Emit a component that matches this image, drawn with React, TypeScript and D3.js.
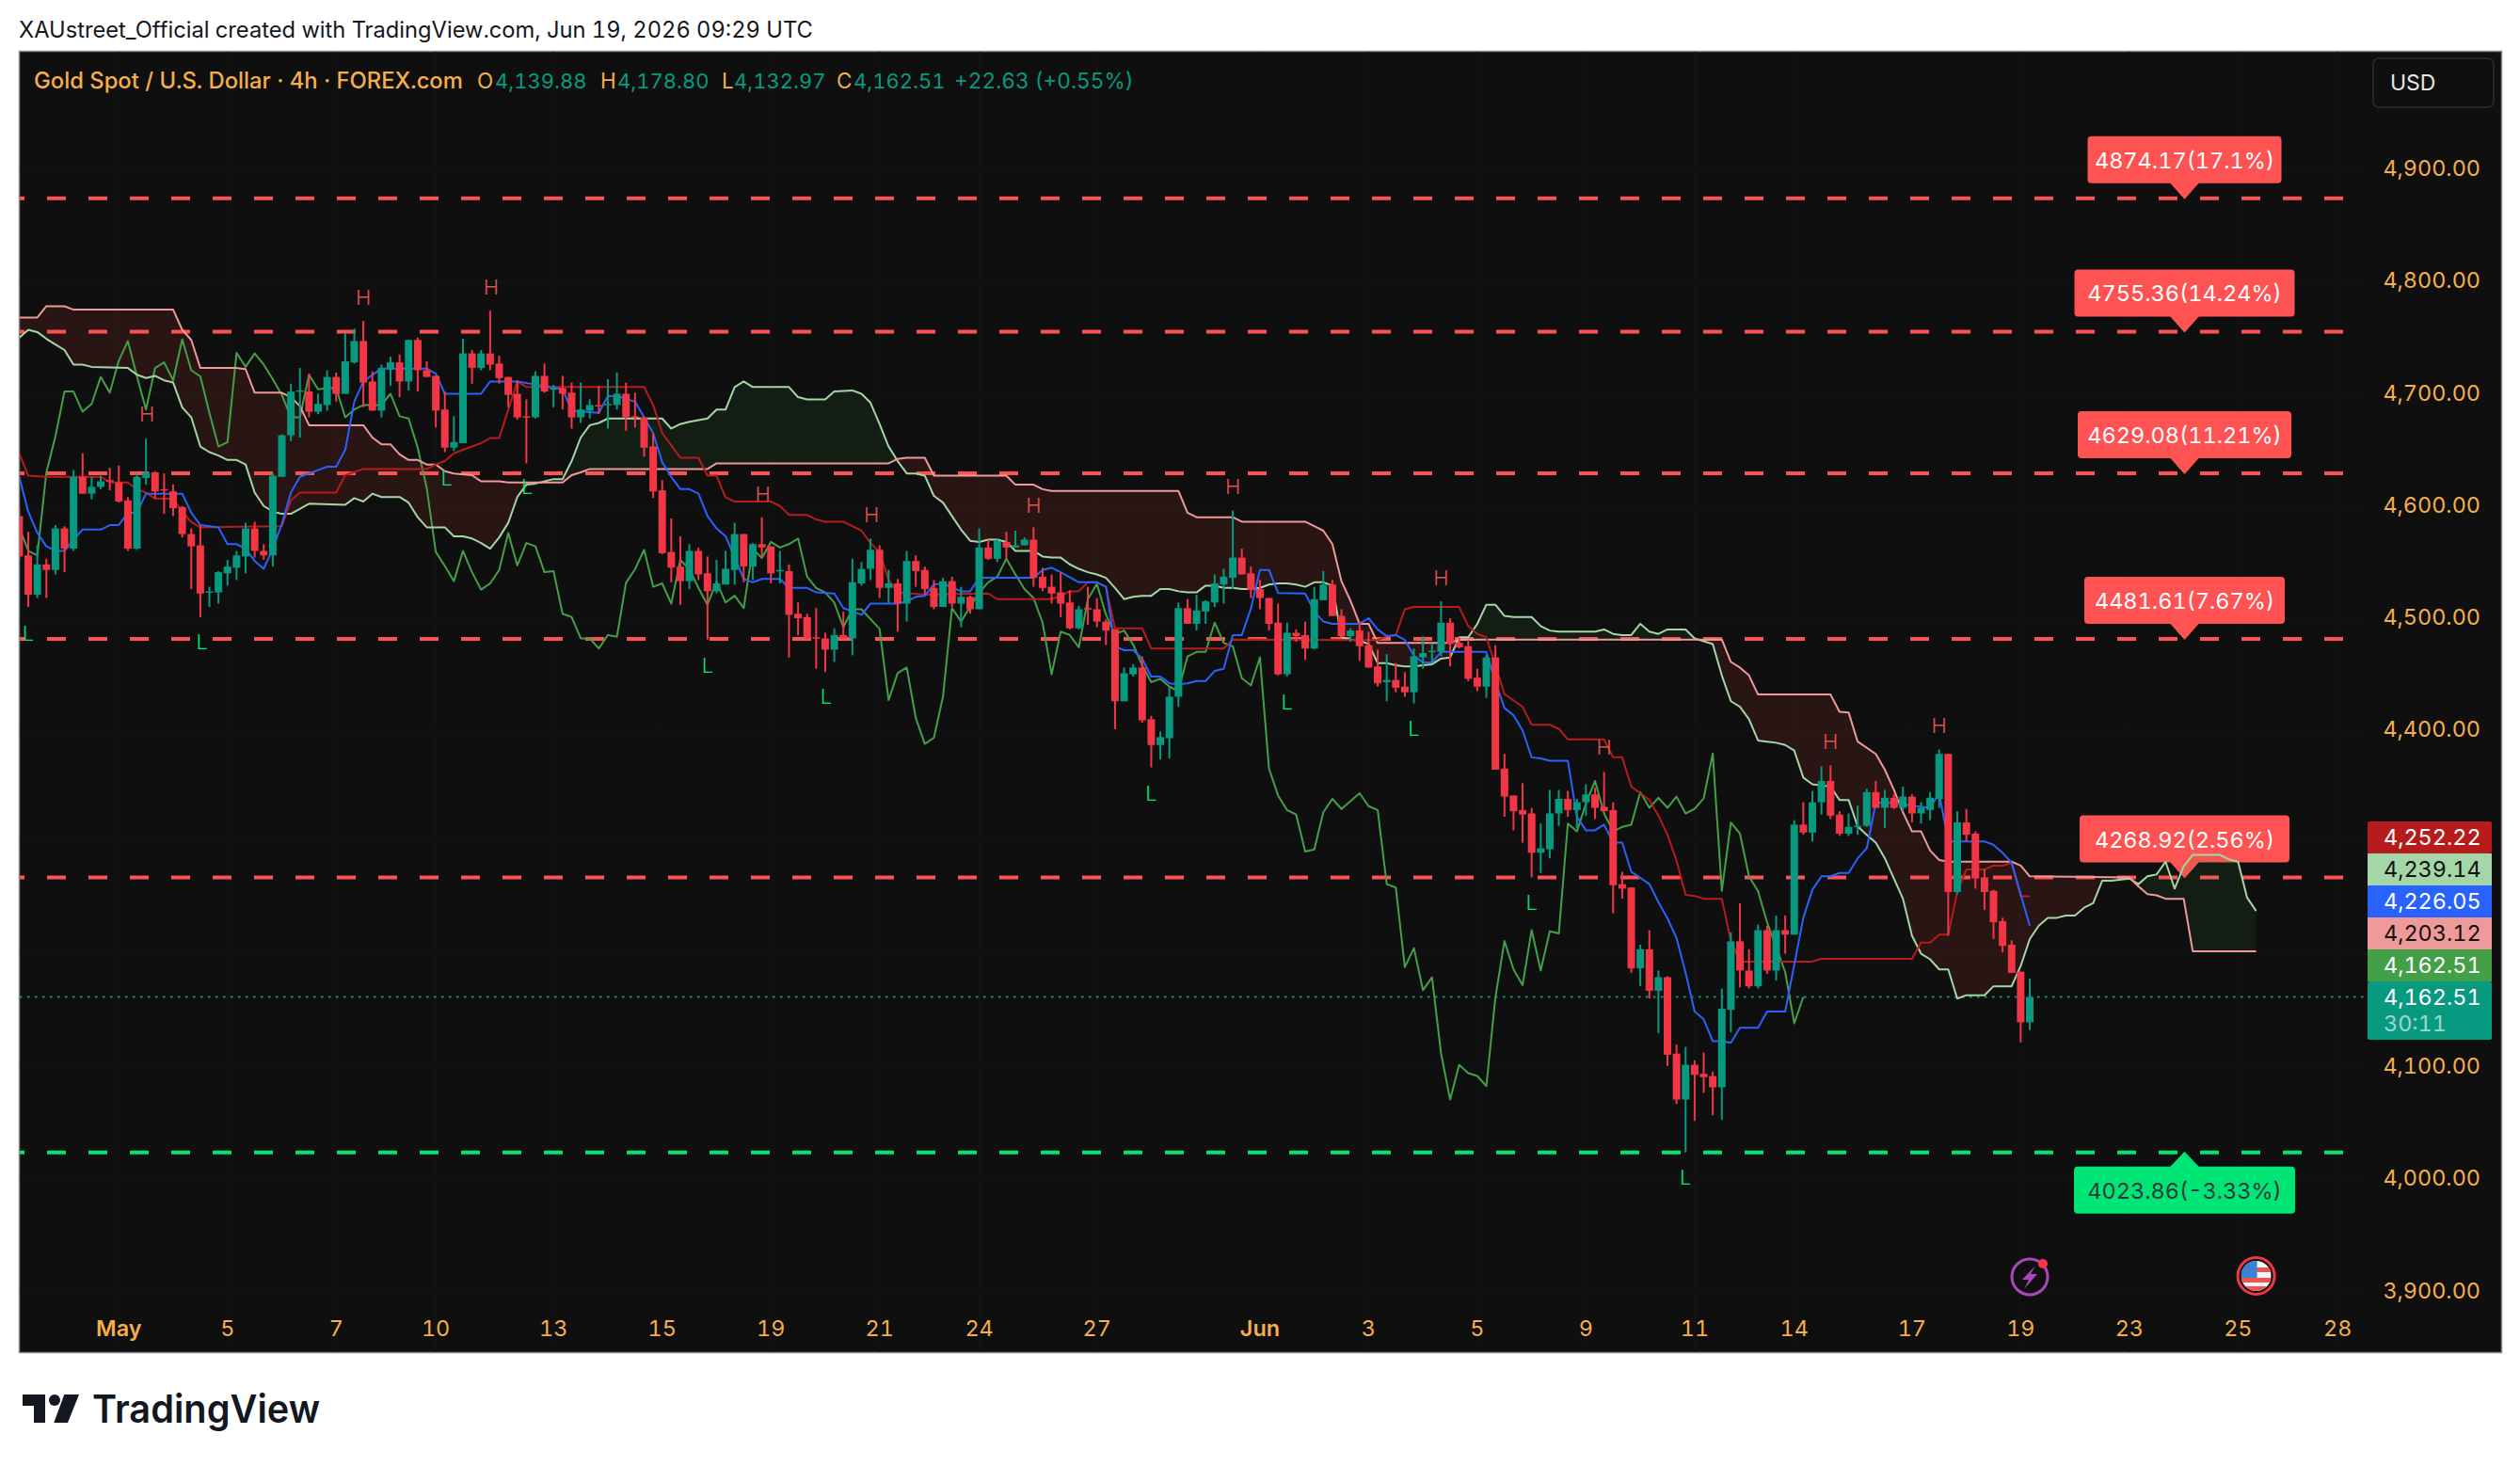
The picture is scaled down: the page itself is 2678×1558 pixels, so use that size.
import React from "react";
import * as d3 from "d3";

type P = [number, number];
type C = [number, number, number, number];

// O H L C, one row per 4h bar
const candlesA: C[] = [
[4591,4600,4552,4555],[4556,4577,4510,4521],[4521,4565,4518,4548],[4548,4553,4518,4543],[4543,4583,4539,4580],[4580,4582,4541,4562],[4562,4632,4560,4626],[4626,4647,4611,4611],[4611,4626,4606,4617],[4617,4627,4615,4622],
[4623,4634,4614,4622],[4621,4636,4603,4604],[4605,4608,4560,4562],[4562,4629,4561,4626],[4625,4660,4619,4630],[4630,4631,4607,4613],[4615,4629,4593,4614],[4613,4619,4591,4598],[4599,4600,4572,4575],[4575,4580,4526,4564],
[4565,4583,4501,4522],[4523,4528,4510,4524],[4523,4542,4513,4541],[4540,4552,4529,4546],[4545,4560,4534,4556],[4555,4585,4540,4580],[4580,4586,4554,4560],[4560,4566,4552,4556],[4556,4629,4546,4627],[4626,4664,4626,4663],
[4663,4709,4658,4702],[4702,4723,4661,4703],[4702,4718,4679,4684],[4684,4700,4682,4691],[4690,4721,4685,4715],[4715,4719,4693,4700],[4700,4754,4700,4729],[4728,4758,4727,4747],[4747,4765,4688,4710],[4711,4720,4685,4685],
[4685,4726,4679,4723],[4722,4733,4707,4728],[4728,4735,4697,4711],[4711,4748,4703,4748],[4748,4750,4702,4721],[4721,4729,4715,4715],[4716,4716,4670,4685],[4686,4702,4648,4652],[4652,4680,4649,4657],[4656,4749,4656,4736],
[4736,4739,4709,4723],[4723,4739,4721,4736],[4736,4774,4721,4726],[4727,4734,4709,4714],[4715,4715,4688,4699],[4700,4712,4677,4679],[4680,4695,4638,4679],[4679,4720,4678,4716],[4716,4727,4701,4702],[4704,4708,4688,4705],
[4705,4716,4686,4700],[4701,4710,4669,4679],[4679,4710,4674,4686],[4685,4695,4678,4690],[4690,4707,4682,4689],[4690,4713,4669,4691],[4690,4719,4686,4700],[4700,4710,4667,4679],[4680,4701,4670,4679],[4679,4679,4644,4652],
[4653,4665,4607,4613],[4614,4623,4557,4558],[4559,4589,4532,4545],[4546,4573,4512,4533],[4533,4566,4526,4560],[4560,4563,4534,4539],[4540,4555,4481,4524],[4524,4552,4522,4531],[4530,4560,4530,4544],[4543,4585,4530,4575],
];
const candlesB: C[] = [
[4575,4575,4532,4546],[4546,4567,4534,4566],[4566,4590,4554,4563],[4564,4564,4531,4540],[4542,4560,4531,4543],[4542,4548,4465,4503],[4504,4514,4485,4500],[4501,4504,4481,4482],[4483,4509,4455,4482],[4482,4487,4452,4472],
[4472,4491,4461,4485],[4485,4506,4482,4482],[4482,4553,4467,4532],[4531,4550,4529,4544],[4544,4571,4534,4561],[4561,4565,4518,4527],[4527,4543,4513,4531],[4531,4535,4488,4513],[4513,4560,4497,4551],[4551,4556,4528,4542],
[4543,4546,4521,4526],[4527,4534,4508,4510],[4510,4536,4510,4533],[4533,4537,4510,4513],[4513,4528,4492,4519],[4519,4520,4504,4508],[4508,4580,4508,4563],[4563,4570,4552,4553],[4553,4570,4550,4569],[4568,4577,4553,4563],
[4563,4578,4563,4565],[4565,4572,4565,4570],[4570,4581,4528,4536],[4537,4545,4524,4527],[4528,4539,4513,4522],[4523,4541,4501,4513],[4514,4525,4490,4491],[4491,4511,4490,4508],[4509,4528,4494,4508],[4508,4518,4492,4497],
[4497,4499,4476,4489],[4490,4490,4401,4426],[4426,4456,4426,4451],[4450,4459,4448,4456],[4456,4466,4407,4409],[4410,4413,4367,4387],[4387,4399,4374,4394],[4393,4439,4375,4430],[4430,4514,4421,4509],[4509,4517,4495,4495],
[4495,4521,4489,4507],[4506,4516,4495,4515],[4514,4539,4510,4531],[4530,4544,4513,4537],[4536,4596,4526,4554],
];
const candlesC: C[] = [
[4554,4562,4539,4539],[4540,4546,4518,4525],[4526,4534,4508,4518],[4518,4518,4489,4495],[4496,4513,4449,4450],[4450,4496,4448,4487],[4487,4490,4479,4484],[4485,4497,4463,4473],[4473,4528,4472,4517],[4516,4542,4516,4530],
[4530,4534,4502,4502],[4502,4508,4483,4484],[4484,4491,4479,4489],[4489,4497,4462,4475],[4476,4488,4456,4456],[4457,4472,4439,4442],[4443,4468,4426,4445],[4445,4460,4434,4438],[4439,4452,4430,4434],[4434,4473,4424,4466],
[4465,4484,4455,4469],[4470,4477,4460,4471],[4470,4515,4466,4496],[4496,4500,4457,4477],[4478,4483,4473,4474],[4475,4481,4444,4446],[4447,4455,4435,4439],[4439,4467,4429,4465],[4465,4476,4365,4365],
[4366,4379,4323,4341],[4342,4342,4311,4328],[4329,4353,4300,4325],[4326,4331,4269,4291],[4291,4317,4273,4295],[4294,4347,4286,4326],[4326,4347,4315,4339],[4339,4346,4323,4329],[4329,4339,4313,4336],[4336,4352,4324,4343],
[4343,4349,4321,4331],[4332,4363,4328,4328],[4329,4336,4237,4262],[4263,4274,4250,4259],[4260,4260,4184,4188],[4188,4209,4172,4205],[4205,4222,4161,4168],[4168,4186,4130,4180],[4180,4181,4101,4111],[4112,4120,4067,4071],
[4071,4118,4024,4102],[4102,4106,4052,4093],[4094,4113,4077,4091],[4092,4096,4057,4082],[4082,4170,4053,4152],[4151,4220,4131,4212],[4212,4246,4171,4186],[4186,4205,4170,4172],[4172,4227,4170,4222],[4222,4226,4183,4186],
[4186,4235,4177,4222],[4222,4235,4201,4218],[4218,4320,4218,4316],[4316,4336,4307,4309],[4309,4346,4301,4336],[4336,4368,4325,4355],
[4355,4369,4321,4324],[4325,4328,4306,4308],[4308,4326,4306,4314],[4314,4333,4307,4315],[4315,4348,4314,4345],[4345,4355,4331,4331],[4331,4347,4313,4340],[4340,4343,4330,4331],[4331,4350,4328,4341],[4341,4343,4318,4326],
[4326,4336,4317,4331],[4329,4345,4320,4340],[4339,4383,4331,4379],[4379,4379,4217,4256],[4256,4328,4254,4318],[4318,4330,4301,4307],[4308,4310,4259,4268],[4269,4276,4240,4256],[4257,4258,4214,4229],[4230,4233,4202,4208],
[4209,4213,4184,4184],[4185,4185,4122,4139.88],[4139.88,4178.8,4132.97,4162.51],
];
const candles: C[] = [...candlesA, ...candlesB, ...candlesC];

// [bar index, price] at the vertices of each line
const spanA: P[] = [[0,4750],[1,4757],[2,4755],[3,4749],[4,4744],[5,4739],[6,4726],[7,4726],[8,4724],[12,4723],[13,4717],[14,4714],[15,4716],[16,4712],[17,4710],[18,4688],[19,4679],[20,4653],[21,4648],[22,4645],[23,4641],[24,4641],[25,4637],[26,4612],[27,4600],[28,4595],[29,4593],[30,4593],[32,4602],[36,4601],[37,4607],[38,4604],[39,4611],[40,4608],[42,4608],[43,4603],[44,4590],[45,4581],[47,4581],[48,4573],[49,4573],[50,4571],[51,4567],[52,4562],[53,4572],[54,4585],[55,4608],[56,4619],[57,4620],[59,4624],[60,4624],[61,4640],[62,4661],[63,4672],[64,4674],[65,4678],[71,4678],[72,4669],[73,4673],[74,4675],[76,4678],[77,4686],[78,4686],[79,4706],[80,4711],[81,4706],[85,4706],[86,4697],[87,4695],[89,4695],[90,4702],[92,4703],[93,4700],[94,4692],[95,4673],[96,4653],[97,4640],[98,4629],[99,4629],[100,4627],[101,4609],[102,4603],[104,4579],[105,4569],[106,4568],[107,4570],[108,4570],[109,4568],[110,4560],[112,4560],[113,4555],[114,4554],[115,4554],[116,4548],[117,4544],[118,4541],[119,4539],[120,4536],[121,4527],[122,4517],[123,4519],[124,4520],[125,4520],[126,4526],[127,4526],[128,4524],[129,4523],[130,4523],[131,4529],[132,4529],[133,4527],[134,4527],[135,4526],[136,4526],[137,4527],[138,4530],[139,4531],[140,4531],[141,4530],[142,4528],[143,4532],[144,4532],[145,4529],[146,4483],[147,4481],[148,4480],[149,4477],[150,4460],[151,4460],[152,4458],[153,4457],[154,4457],[155,4458],[156,4459],[157,4464],[158,4465],[159,4483],[160,4483],[161,4495],[162,4512],[163,4512],[164,4502],[165,4501],[167,4501],[168,4493],[169,4489],[170,4488],[174,4488],[175,4490],[176,4486],[177,4485],[178,4485],[179,4495],[180,4488],[181,4486],[182,4490],[184,4490],[185,4482],[187,4477],[188,4449],[189,4426],[190,4421],[191,4410],[192,4391],[193,4390],[194,4389],[195,4387],[196,4382],[197,4358],[198,4352],[199,4351],[200,4350],[201,4338],[202,4338],[203,4314.5],[204,4307],[205,4300],[206,4286],[207,4268],[208,4250],[209,4217],[210,4201],[211,4196],[212,4187],[213,4187],[214,4161],[215,4164],[217,4164],[218,4172],[220,4172],[221,4190],[222,4214],[223,4226],[224,4233],[225,4233],[226,4235],[227,4235],[228,4242],[229,4246],[230,4266],[231,4266],[233,4268],[234,4263],[235,4270],[236,4271.6],[237,4283],[238,4259],[239,4279],[240,4289],[243,4289],[244,4285],[245,4283],[246,4251],[247,4239.14]];
const spanB: P[] = [[0,4768],[2,4768],[3,4778],[5,4778],[6,4775],[17,4775],[18,4757],[19,4748],[20,4723],[24,4723],[25,4722],[26,4701],[29,4701],[30,4697],[31,4689],[32,4672],[38,4672],[39,4661],[40,4655],[41,4655],[42,4646],[43,4641],[44,4641],[45,4637],[46,4637],[47,4631],[48,4629],[50,4627.5],[51,4622],[53,4622],[54,4621],[60,4621],[61,4627.5],[62,4630],[63,4633],[76,4633],[77,4638],[96,4638],[97,4642],[98,4643],[100,4643],[101,4627],[109,4627],[110,4619],[112,4619],[113,4615],[114,4613.5],[128,4613.5],[129,4594],[130,4590],[134,4590],[135,4586],[142,4586],[143,4582],[144,4578],[145,4566],[146,4533],[147,4515.5],[148,4495],[149,4495],[150,4478],[158,4478],[159,4481],[188,4481],[189,4461],[190,4456],[191,4449],[192,4432],[200,4432],[201,4416.5],[202,4416],[203,4390],[205,4379],[206,4365],[207,4347],[208,4327],[209,4310],[210,4310],[211,4293],[212,4284.5],[213,4283],[220,4283],[221,4279.5],[222,4270],[233,4269],[234,4261],[235,4254],[236,4253],[237,4250],[239,4250],[240,4203.12],[247,4203.12]];
const tenkan: P[] = [[0,4626],[1,4595],[2,4576],[3,4564],[4,4560],[5,4560],[6,4570],[7,4579],[9,4579],[10,4583],[11,4583],[12,4594],[13,4594],[14,4611],[18,4611],[19,4594],[20,4583],[22,4581],[23,4566],[24,4566],[25,4562],[26,4551],[27,4544],[28,4562],[29,4584],[30,4612],[31,4626],[32,4629],[34,4635],[35,4635],[36,4650],[37,4693],[38,4711],[40,4722.5],[45,4722.5],[46,4718],[47,4700],[51,4700],[52,4711],[55,4711],[60,4704],[61,4685],[64,4683],[65,4698],[66,4698],[68,4693],[69,4679],[70,4665],[71,4639],[72,4626],[73,4615],[74,4615],[75,4611],[76,4591],[77,4580],[78,4573],[80,4535],[81,4532],[82,4535],[84,4535],[85,4527],[87,4527],[88,4523],[90,4522],[91,4509],[93,4503],[94,4513],[97,4513],[98,4515],[99,4519],[100,4520],[101,4530],[102,4531],[104,4524],[105,4524],[106,4536],[112,4536],[113,4543],[114,4545],[115,4541],[117,4532],[119,4532],[120,4528],[121,4475],[122,4471.5],[123,4471.5],[124,4464],[125,4448],[126,4448],[127,4442],[128,4441],[129,4442],[130,4444],[131,4444],[132,4453],[133,4455],[134,4485],[135,4485],[136,4508.5],[137,4543],[138,4543],[139,4522.5],[142,4522],[143,4506],[144,4497],[145,4495],[148,4495],[149,4500],[150,4490],[151,4484],[152,4485],[153,4480.6],[154,4466.6],[155,4460.5],[156,4460.5],[157,4470],[162,4470],[163,4443],[164,4420],[165,4413.5],[166,4400],[167,4376],[168,4375],[169,4373],[171,4373],[172,4323],[173,4311],[174,4311],[175,4316],[176,4300],[177,4300],[178,4274],[179,4268.6],[180,4263],[181,4247],[182,4232.5],[183,4215],[184,4184],[185,4149.5],[186,4142.5],[187,4123],[188,4123],[189,4121.6],[190,4135],[192,4135],[193,4149.5],[195,4149.5],[197,4233],[198,4258],[199,4270],[200,4270],[201,4273],[202,4273],[203,4286],[204,4295],[205,4335],[206,4336],[211,4331],[212,4344],[213,4301],[217,4301],[218,4298],[219,4291],[220,4282],[221,4254],[222,4226.05]];
const kijun: P[] = [[0,4647],[1,4627],[3,4626],[9,4626],[10,4621],[12,4621],[13,4615],[14,4612],[15,4606.5],[17,4606.5],[18,4595],[19,4585.6],[20,4581],[29,4582],[30,4605],[31,4612],[35,4612],[36,4627.5],[38,4633],[45,4633],[46,4637],[47,4640],[48,4647],[51,4656],[52,4660.5],[53,4660.5],[55,4711],[56,4706],[69,4706],[70,4690],[71,4665],[72,4654],[73,4643],[75,4643],[76,4627],[77,4627],[78,4607.6],[79,4604],[83,4604],[84,4600],[85,4592],[87,4592],[88,4588],[89,4586],[91,4586],[93,4578],[94,4567],[95,4559],[96,4534],[97,4523],[100,4521],[107,4522],[108,4517],[114,4517],[115,4520],[116,4524],[117,4524],[118,4532],[119,4532],[120,4528],[121,4491],[124,4491],[125,4473],[133,4473],[134,4481],[150,4480.6],[151,4484],[152,4485],[153,4508],[154,4510],[159,4510],[160,4493],[161,4486],[162,4483],[163,4458],[164,4432.5],[166,4421],[167,4405],[169,4405],[170,4401.5],[171,4392],[175,4392],[176,4376],[177,4376],[178,4350],[179,4344],[180,4338],[181,4324],[182,4307],[183,4284],[184,4253.5],[185,4252.4],[186,4250],[188,4250],[189,4212.4],[190,4194],[198,4194],[199,4196.5],[209,4196.5],[210,4211],[211,4211],[212,4218],[213,4218],[214,4256],[215,4276],[217,4276],[218,4279.5],[219,4279.5],[220,4282],[221,4252.22],[222,4252.22]];
const lagging: P[] = [[0,4581],[1,4560],[2,4556],[3,4630],[4,4662],[5,4702],[6,4702],[7,4684],[8,4691],[9,4715],[10,4701],[11,4729.5],[12,4747],[13,4715.5],[14,4686],[15,4723],[16,4728],[17,4712],[18,4748.5],[19,4721],[20,4715.5],[21,4683],[22,4653],[23,4657],[24,4736.5],[25,4724],[26,4736],[27,4726],[28,4713],[29,4699],[30,4679],[31,4679],[32,4717],[33,4704],[34,4705],[35,4705],[36,4679],[37,4686],[38,4690],[40,4690],[41,4700],[42,4680],[43,4678],[44,4652],[45,4616],[46,4559],[47,4546.5],[48,4533],[49,4560],[50,4541],[51,4525.5],[52,4531],[53,4543],[54,4576],[55,4547],[56,4567],[57,4564],[58,4541],[59,4542],[60,4504],[61,4501],[62,4482],[63,4482],[64,4473],[65,4485],[66,4483.5],[67,4531.6],[68,4543.6],[69,4561],[70,4528],[71,4531],[72,4513],[73,4552],[74,4543.6],[75,4527],[76,4512],[77,4532.5],[78,4514],[79,4520],[80,4509],[81,4562],[82,4553.6],[83,4568],[84,4563],[85,4566],[86,4571],[87,4537],[88,4527],[89,4523],[90,4514],[91,4492],[92,4508],[93,4508],[95,4490.5],[96,4427],[97,4451],[98,4456],[99,4411],[100,4388],[101,4393.5],[102,4430],[103,4509],[104,4497],[106,4523],[107,4532],[108,4537],[109,4553],[110,4539],[111,4526],[112,4518],[113,4496],[114,4450],[115,4488],[116,4485],[117,4474],[118,4517],[119,4530.5],[120,4503],[121,4486],[122,4489],[123,4476.5],[124,4458],[125,4443],[126,4446],[127,4439],[128,4435],[129,4466],[130,4470],[131,4470],[132,4496],[133,4478],[134,4475],[135,4446.5],[136,4440],[137,4465],[138,4366],[139,4342],[140,4329],[141,4325],[142,4292],[143,4294],[144,4327],[145,4339],[146,4330],[148,4344],[149,4332.5],[150,4329],[151,4263],[152,4260],[153,4189],[154,4206],[155,4168.5],[156,4180],[157,4112],[158,4071],[159,4102],[160,4094.5],[161,4092],[162,4083],[163,4162],[164,4212.4],[165,4187],[166,4173],[167,4222],[168,4186],[169,4221],[170,4219],[171,4317],[172,4310],[173,4335],[174,4355],[175,4326],[176,4310],[177,4314],[178,4316],[179,4345],[180,4331],[181,4340],[182,4331],[183,4341],[184,4326],[185,4330],[186,4339.6],[187,4379.5],[188,4257],[189,4318],[190,4308],[191,4270],[192,4256.6],[193,4229],[194,4207],[195,4184.5],[196,4139],[197,4162.51]];

const highMarks: P[] = [[14.1,4682],[38,4786],[52.1,4795],[82.1,4611],[94.1,4592],[112,4601],[134,4617],[157,4536],[175,4385],[200,4390],[212,4404]];
const lowMarks: P[] = [[1,4487],[20.2,4479],[47.2,4625],[56.1,4617],[76,4458],[89.1,4430],[125,4344],[140,4425],[154,4402],[167,4247],[184,4002]];

const upTargets = [4874.17, 4755.36, 4629.08, 4481.61, 4268.92];
const upTargetTexts = ["4874.17(17.1%)", "4755.36(14.24%)", "4629.08(11.21%)", "4481.61(7.67%)", "4268.92(2.56%)"];
const downTarget = 4023.86;
const downTargetText = "4023.86(-3.33%)";

const priceTicks = [4900, 4800, 4700, 4600, 4500, 4400, 4100, 4000, 3900];
const gridPrices = [4900, 4800, 4700, 4600, 4500, 4400, 4300, 4200, 4100, 4000, 3900];
const timeTickBars = [11, 23, 35, 46, 59, 71, 83, 95, 106, 119, 137, 149, 161, 173, 185, 196, 209, 221, 233, 245, 256];
const timeTickTexts = ["May", "5", "7", "10", "13", "15", "19", "21", "24", "27", "Jun", "3", "5", "9", "11", "14", "17", "19", "23", "25", "28"];
const lastValues = ["4,252.22", "4,239.14", "4,226.05", "4,203.12", "4,162.51"];
const lastClose = 4162.51;

const W = 2678, H = 1558;
const FONT = "Inter, 'Noto Sans', sans-serif";
const GREEN = "#089981", RED = "#f23645", AXIS = "#f5ae4b";
const targetBoxW = [206, 234, 227, 213, 223];
const lastValueColors = [["#b71c1c", "#fff"], ["#a5d6a7", "#111"], ["#2962ff", "#fff"], ["#ef9a9a", "#111"], ["#43a047", "#fff"]];

const x = d3.scaleLinear().domain([0, 222]).range([20.4, 2157]);
const y = d3.scaleLinear().domain([3900, 4900]).range([1372.5, 180]);
const line = d3.line<P>().x((d) => x(d[0])).y((d) => y(d[1]));
const asScale = (pts: P[]) => d3.scaleLinear().domain(pts.map((p) => p[0])).range(pts.map((p) => p[1]));
const aAt = asScale(spanA), bAt = asScale(spanB);
const grid = d3.range(0, 247.001, 0.1);
const cloudRed = d3.area<number>().x((i) => x(i)).y0((i) => y(aAt(i))).y1((i) => y(Math.max(aAt(i), bAt(i))));
const cloudGreen = d3.area<number>().x((i) => x(i)).y0((i) => y(bAt(i))).y1((i) => y(Math.max(aAt(i), bAt(i))));
const fmt = d3.format(",.2f");

const Series = ({ pts, color, w = 2 }: { pts: P[]; color: string; w?: number }) => (
  <path d={line(pts) as string} fill="none" stroke={color} strokeWidth={w} strokeLinejoin="round" />
);

export default function App() {
  const cx = 2321.5;
  return (
    <svg width={W} height={H} viewBox={`0 0 ${W} ${H}`} style={{ position: "absolute", left: 0, top: 0, background: "#fff", fontVariantNumeric: "tabular-nums" }} fontFamily={FONT}>
      <defs>
        <clipPath id="pane"><rect x={21} y={55} width={2495} height={1382} /></clipPath>
      </defs>
      <text x={20} y={40} fontSize={23.7} fill="#131722">XAUstreet_Official created with TradingView.com, Jun 19, 2026 09:29 UTC</text>
      <rect x={20.5} y={54.5} width={2638} height={1383} fill="#0f0f0f" stroke="#8a8a8a" strokeWidth={1.5} />

      {gridPrices.map((p) => <line key={p} x1={21} x2={2516} y1={y(p)} y2={y(p)} stroke="#131313" strokeWidth={1.5} />)}
      {timeTickBars.map((b) => <line key={b} x1={x(b)} x2={x(b)} y1={55} y2={1437} stroke="#131313" strokeWidth={1.5} />)}

      <g clipPath="url(#pane)">
        {upTargets.map((p) => (
          <line key={p} x1={21} x2={2492} y1={y(p)} y2={y(p)} stroke="#ff5252" strokeWidth={4} strokeDasharray="20 24" strokeDashoffset={15} />
        ))}
        <line x1={21} x2={2492} y1={y(downTarget)} y2={y(downTarget)} stroke="#00e676" strokeWidth={4} strokeDasharray="20 24" strokeDashoffset={15} />
        <line x1={21} x2={2516} y1={y(lastClose)} y2={y(lastClose)} stroke={GREEN} strokeWidth={2} strokeDasharray="2.5 5.5" />

        {upTargets.map((p, k) => {
          const yy = y(p);
          const w = targetBoxW[k];
          return (
            <g key={p}>
              <rect x={cx - w / 2} y={yy - 66} width={w} height={50} rx={4} fill="#ff5252" />
              <path d={`M${cx - 16},${yy - 17}L${cx + 16},${yy - 17}L${cx},${yy + 1}Z`} fill="#ff5252" />
              <text x={cx} y={yy - 32} fontSize={23.5} textAnchor="middle" fill="#fff">{upTargetTexts[k]}</text>
            </g>
          );
        })}
        <g>
          <rect x={cx - 117.5} y={y(downTarget) + 15} width={235} height={50} rx={4} fill="#00e676" />
          <path d={`M${cx - 16},${y(downTarget) + 16}L${cx + 16},${y(downTarget) + 16}L${cx},${y(downTarget) - 1}Z`} fill="#00e676" />
          <text x={cx} y={y(downTarget) + 49} fontSize={23.5} textAnchor="middle" fill="#2a3a3a">{downTargetText}</text>
        </g>

        <path d={cloudRed(grid) as string} fill="rgba(244,67,54,0.115)" />
        <path d={cloudGreen(grid) as string} fill="rgba(67,160,71,0.1)" />
        <Series pts={lagging} color="#43a047" />
        <Series pts={spanA} color="#a5d6a7" />
        <Series pts={spanB} color="#ef9a9a" />
        <Series pts={kijun} color="#b71c1c" />
        <Series pts={tenkan} color="#2962ff" />

        {candles.map((c, i) => {
          const [o, h, l, cl] = c;
          const col = cl >= o ? GREEN : RED;
          const top = y(Math.max(o, cl)), bot = y(Math.min(o, cl));
          return (
            <g key={i}>
              <rect x={x(i) - 1} y={y(h)} width={2} height={y(l) - y(h)} fill={col} />
              <rect x={x(i) - 4} y={top} width={8} height={Math.max(bot - top, 1.5)} fill={col} />
            </g>
          );
        })}

        {highMarks.map((m, k) => <text key={k} x={x(m[0])} y={y(m[1])} dy={8} fontSize={22} fontWeight={300} textAnchor="middle" fill="#e2504e">H</text>)}
        {lowMarks.map((m, k) => <text key={k} x={x(m[0])} y={y(m[1])} dy={8} fontSize={22} fontWeight={300} textAnchor="middle" fill="#00e676">L</text>)}

        <circle cx={x(222)} cy={1357} r={19} fill="none" stroke="#ab47bc" strokeWidth={3} />
        <path d={`M${x(222) + 6},${1345}L${x(222) - 8},${1360}L${x(222) - 1},${1360}L${x(222) - 6},${1370}L${x(222) + 8},${1354}L${x(222) + 1},${1354}Z`} fill="#ab47bc" />
        <circle cx={x(222) + 14} cy={1343} r={5} fill="#f23645" />
        <circle cx={x(247)} cy={1356} r={19.5} fill="#111" stroke="#f23645" strokeWidth={3} />
        <clipPath id="flag"><circle cx={x(247)} cy={1356} r={16} /></clipPath>
        <g clipPath="url(#flag)">
          <rect x={x(247) - 16} y={1340} width={32} height={32} fill="#f5f5f5" />
          <rect x={x(247) - 16} y={1347} width={32} height={5} fill="#ef5350" />
          <rect x={x(247) - 16} y={1358} width={32} height={5} fill="#ef5350" />
          <rect x={x(247) - 16} y={1367} width={32} height={5} fill="#ef5350" />
          <rect x={x(247) - 16} y={1340} width={17} height={18} fill="#3b82d6" />
        </g>
      </g>

      <text x={36} y={94} fontSize={23.8} fill="#f5ae4b" fontWeight={500}>Gold Spot / U.S. Dollar · 4h · FOREX.com</text>
      <text x={507} y={94} fontSize={22.5} fill="#f5ae4b">O</text>
      <text x={526} y={94} fontSize={22} fill={GREEN}>4,139.88</text>
      <text x={638} y={94} fontSize={22.5} fill="#f5ae4b">H</text>
      <text x={656} y={94} fontSize={22} fill={GREEN}>4,178.80</text>
      <text x={767} y={94} fontSize={22.5} fill="#f5ae4b">L</text>
      <text x={780} y={94} fontSize={22} fill={GREEN}>4,132.97</text>
      <text x={889} y={94} fontSize={22.5} fill="#f5ae4b">C</text>
      <text x={907} y={94} fontSize={22} fill={GREEN}>4,162.51</text>
      <text x={1014} y={94} fontSize={22.7} fill={GREEN}>+22.63 (+0.55%)</text>

      <rect x={2522} y={62} width={128} height={52} rx={6} fill="#0f0f0f" stroke="#262626" strokeWidth={2} />
      <text x={2540} y={96} fontSize={23} fill="#e6e6e6">USD</text>

      {priceTicks.map((p) => (
        <text key={p} x={2636} y={y(p) + 7} fontSize={23.4} textAnchor="end" fill={AXIS}>{fmt(p)}</text>
      ))}
      {timeTickBars.map((b, k) => (
        <text key={b} x={x(b)} y={1420} fontSize={23.4} textAnchor="middle" fontWeight={k === 0 || k === 10 ? 600 : 400} fill={AXIS}>{timeTickTexts[k]}</text>
      ))}

      {lastValues.map((v, k) => (
        <g key={k}>
          <rect x={2516} y={873 + k * 34} width={132} height={34} rx={k === 0 ? 2 : 0} fill={lastValueColors[k][0]} />
          <text x={2533} y={898 + k * 34} fontSize={23.4} fill={lastValueColors[k][1]}>{v}</text>
        </g>
      ))}
      <rect x={2516} y={1043} width={132} height={62} rx={2} fill={GREEN} />
      <text x={2533} y={1068} fontSize={23.4} fill="#fff">{fmt(lastClose)}</text>
      <text x={2533} y={1096} fontSize={23.4} fill="rgba(255,255,255,0.62)">30:11</text>

      <g fill="#131722">
        <path d="M24,1482H48V1512H36V1494H24Z" />
        <circle cx={58} cy={1488} r={6} />
        <path d="M68.3,1482H84L72,1512H57.3Z" />
      </g>
      <text x={98} y={1512} fontSize={41} fontWeight={600} fill="#131722" textLength={242} lengthAdjust="spacingAndGlyphs">TradingView</text>
    </svg>
  );
}
